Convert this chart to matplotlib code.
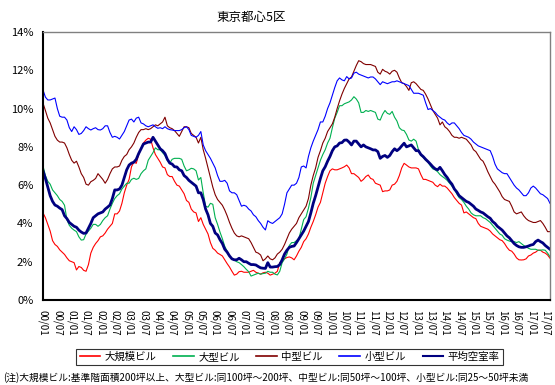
import numpy as np
import matplotlib
matplotlib.use("Agg")
import matplotlib.pyplot as plt

plt.rcParams['font.family'] = ['Noto Sans CJK JP', 'DejaVu Sans']

# 月次空室率（%）、2000/01〜2017/09
large_scale = [
    4.55, 4.3, 3.95, 3.6, 3.1, 2.9, 2.8, 2.62, 2.5, 2.38, 2.2, 2.05,
    2.0, 1.95, 1.57, 1.75, 1.7, 1.55, 1.5, 1.85, 2.45, 2.75, 2.95, 3.1,
    3.3, 3.35, 3.5, 3.7, 3.85, 4.0, 4.5, 4.5, 4.65, 5.05, 5.6, 6.0,
    6.3, 6.96, 7.2, 7.14, 7.6, 7.9, 8.2, 8.35, 8.45, 8.4, 7.95, 7.6,
    7.4, 7.2, 6.95, 6.9, 6.55, 6.45, 6.45, 6.2, 6.0, 5.95, 5.75, 5.55,
    5.2, 5.1, 4.75, 4.6, 4.55, 4.1, 4.3, 3.95, 3.7, 3.45, 3.0, 2.7,
    2.6, 2.45, 2.38, 2.3, 2.1, 1.9, 1.72, 1.5, 1.3, 1.35, 1.48, 1.5,
    1.45, 1.45, 1.45, 1.5, 1.55, 1.45, 1.4, 1.35, 1.42, 1.45, 1.4, 1.3,
    1.35, 1.4, 1.5, 1.95, 2.0, 2.15, 2.22, 2.25, 2.2, 2.1, 2.3, 2.55,
    2.75, 3.05, 3.2, 3.45, 3.8, 4.1, 4.45, 4.85, 5.1, 5.6, 6.1, 6.45,
    6.75, 6.85, 6.8, 6.8, 6.85, 6.9, 6.96, 7.05, 6.9, 6.6, 6.6, 6.5,
    6.4, 6.2, 6.3, 6.45, 6.53, 6.35, 6.3, 6.1, 6.05, 6.0, 5.66, 5.7,
    5.7, 5.75, 6.0, 6.05, 6.2, 6.5, 6.9, 7.14, 7.05, 6.95, 6.9, 6.9,
    6.9, 6.85, 6.55, 6.3, 6.3, 6.25, 6.2, 6.15, 6.0, 5.92, 6.05, 5.95,
    5.95, 5.85, 5.7, 5.55, 5.35, 5.2, 5.05, 4.96, 4.55, 4.6, 4.5, 4.4,
    4.3, 4.25, 4.0, 3.85, 3.8, 3.75, 3.7, 3.6, 3.45, 3.35, 3.25, 3.15,
    3.1, 2.95, 2.75, 2.6, 2.55, 2.4, 2.2, 2.1, 2.09, 2.1, 2.15, 2.3,
    2.35, 2.45, 2.5, 2.6, 2.6, 2.5, 2.45, 2.35, 2.18,
]
large = [
    7.0, 6.5, 6.2, 6.05, 5.75, 5.6, 5.45, 5.25, 5.15, 4.95, 4.2, 3.9,
    3.75, 3.65, 3.57, 3.3, 3.13, 3.15, 3.45, 3.6, 3.75, 3.95, 3.95, 3.85,
    3.95, 4.15, 4.3, 4.4, 4.75, 5.05, 5.3, 5.45, 5.55, 5.8, 5.95, 6.1,
    6.1, 6.3, 6.36, 6.3, 6.35, 6.6, 6.75, 6.85, 7.3, 7.5, 7.7, 7.95,
    7.85, 7.85, 7.7, 7.55, 7.3, 7.15, 7.35, 7.4, 7.4, 7.4, 7.35, 7.0,
    6.75, 6.8, 6.88, 6.85, 6.75, 6.27, 6.4, 5.6, 4.9, 4.85, 5.05, 5.0,
    4.3, 3.95, 3.55, 3.2, 2.8, 2.55, 2.3, 2.15, 2.08, 2.0, 1.95, 1.85,
    1.74, 1.6, 1.48, 1.25, 1.3, 1.35, 1.4, 1.35, 1.38, 1.4, 1.5, 1.45,
    1.45, 1.35, 1.31, 1.5, 1.95, 2.15, 2.4, 2.85, 3.0, 3.0, 3.1, 3.2,
    3.7, 4.2, 4.35, 4.8, 5.35, 6.1, 6.5, 6.9, 7.3, 7.6, 7.85, 8.2,
    8.45, 9.0, 9.5, 9.8, 10.15, 10.15, 10.25, 10.3, 10.35, 10.45, 10.62, 10.5,
    10.3, 9.8, 9.8, 9.9, 9.85, 9.9, 9.85, 9.8, 9.45, 9.4, 9.7, 9.9,
    9.75, 9.7, 9.85, 9.55, 9.35, 9.0, 8.88, 8.85, 8.65, 8.36, 8.3, 8.4,
    8.3, 7.85, 7.55, 7.45, 7.3, 7.2, 7.0, 6.85, 6.8, 6.7, 6.55, 6.45,
    6.36, 6.25, 6.1, 5.95, 5.8, 5.55, 5.35, 5.25, 5.1, 4.9, 4.75, 4.55,
    4.45, 4.4, 4.4, 4.4, 4.3, 4.25, 4.15, 4.05, 3.9, 3.75, 3.6, 3.45,
    3.38, 3.2, 3.13, 3.08, 3.05, 3.05, 3.0, 3.05, 2.95, 2.85, 2.78, 2.7,
    2.65, 2.65, 2.65, 2.6, 2.6, 2.62, 2.6, 2.45, 2.26,
]
medium = [
    10.28, 9.9, 9.5, 9.25, 8.9, 8.55, 8.35, 8.25, 8.25, 8.2, 7.95, 7.6,
    7.3, 7.15, 7.25, 6.95, 6.6, 6.4, 6.05, 6.0, 6.18, 6.25, 6.35, 6.6,
    6.45, 6.3, 6.1, 6.3, 6.6, 6.85, 6.95, 6.95, 7.0, 7.3, 7.5, 7.6,
    7.85, 8.0, 8.2, 8.5, 8.75, 8.9, 8.9, 8.95, 8.9, 8.95, 9.05, 9.15,
    9.1, 9.2, 9.3, 9.55, 9.1, 9.0, 8.95, 8.85, 8.7, 8.55, 8.8, 9.05,
    9.05, 9.0, 8.7, 8.6, 8.5, 8.2, 8.5, 7.85, 7.4, 6.9, 6.4, 5.9,
    5.5, 5.25, 5.1, 4.95, 4.7, 4.4, 4.05, 3.75, 3.5, 3.35, 3.3, 3.35,
    3.3, 3.25, 3.2, 3.0, 2.75, 2.5, 2.45, 2.35, 2.05, 2.15, 2.3, 2.15,
    2.1, 2.2, 2.4, 2.5, 2.65, 2.9, 3.2, 3.5, 3.7, 3.85, 4.0, 4.3,
    4.5, 4.7, 4.9, 5.3, 6.0, 6.5, 6.9, 7.45, 7.8, 8.2, 8.45, 8.8,
    9.0, 9.2, 9.55, 10.0, 10.4, 10.75, 11.05, 11.3, 11.55, 11.65, 11.95, 12.25,
    12.5, 12.45, 12.35, 12.3, 12.3, 12.3, 12.25, 12.2, 11.9, 11.8, 12.05, 11.95,
    11.9, 11.8, 11.95, 12.0, 11.9, 11.6, 11.35, 11.3, 11.15, 10.95, 11.35, 11.4,
    11.3, 11.15, 11.0, 10.95, 10.75, 10.5, 10.2, 9.9, 9.7, 9.5, 9.15, 9.3,
    9.05, 8.95, 8.8, 8.6, 8.5, 8.5, 8.45, 8.5, 8.45, 8.4, 8.25, 8.1,
    7.85, 7.75, 7.55, 7.35, 7.25, 7.0, 6.7, 6.45, 6.2, 6.05, 5.85, 5.65,
    5.4, 5.25, 5.2, 5.15, 4.9, 4.6, 4.5, 4.55, 4.6, 4.4, 4.25, 4.15,
    4.1, 4.05, 4.05, 4.1, 4.15, 4.0, 3.8, 3.57, 3.57,
]
small = [
    10.97, 10.6, 10.45, 10.45, 10.5, 10.55, 10.0, 9.6, 9.55, 9.55, 9.4, 9.0,
    8.8, 9.05, 8.9, 8.65, 8.7, 8.85, 9.05, 8.95, 8.88, 8.95, 9.0, 8.9,
    8.88, 8.95, 9.1, 9.1, 8.75, 8.5, 8.55, 8.5, 8.41, 8.6, 8.8, 9.1,
    9.4, 9.45, 9.3, 9.5, 9.55, 9.25, 9.2, 9.1, 9.05, 9.1, 9.15, 9.05,
    8.97, 9.0, 8.95, 9.05, 8.95, 8.9, 8.88, 8.85, 8.85, 8.85, 8.9, 9.0,
    9.05, 8.9, 8.6, 8.55, 8.5, 8.6, 8.8, 8.1, 7.8, 7.6, 7.4, 7.15,
    6.9, 6.5, 6.2, 6.2, 6.25, 6.1, 5.7, 5.6, 5.6, 5.5, 5.2, 4.9,
    4.95, 4.9, 4.75, 4.65, 4.45, 4.35, 4.15, 4.0, 3.8, 3.66, 4.14, 4.05,
    4.0, 4.1, 4.2, 4.3, 4.5, 5.0, 5.6, 5.8, 6.0, 6.0, 6.1, 6.4,
    6.95, 7.0, 6.9, 7.5, 7.95, 8.3, 8.6, 8.9, 9.3, 9.3, 9.6, 10.0,
    10.3, 10.7, 11.1, 11.45, 11.6, 11.5, 11.45, 11.67, 11.55, 11.6, 11.85, 11.9,
    11.8, 11.75, 11.7, 11.65, 11.6, 11.65, 11.65, 11.55, 11.4, 11.25, 11.4, 11.35,
    11.3, 11.35, 11.4, 11.4, 11.45, 11.4, 11.35, 11.3, 11.25, 11.2, 11.0, 10.8,
    10.8, 10.8, 10.75, 10.7, 10.3, 9.95, 10.0, 9.9, 9.8, 9.65, 9.55, 9.45,
    9.4, 9.25, 9.15, 9.25, 9.25, 9.1, 8.95, 8.75, 8.6, 8.55, 8.5, 8.4,
    8.25, 8.15, 8.05, 8.0, 7.95, 7.9, 7.85, 7.8, 7.5, 7.1, 6.85, 6.75,
    6.65, 6.6, 6.6, 6.4, 6.2, 6.0, 5.85, 5.75, 5.6, 5.45, 5.45, 5.6,
    5.85, 5.95, 5.85, 5.7, 5.55, 5.5, 5.4, 5.3, 5.05,
]
average = [
    6.75, 6.35, 5.9, 5.45, 5.15, 4.96, 4.9, 4.8, 4.72, 4.4, 4.25, 4.05,
    3.95, 3.85, 3.8, 3.65, 3.55, 3.48, 3.5, 3.75, 4.0, 4.3, 4.4, 4.5,
    4.55, 4.6, 4.75, 4.85, 4.96, 5.3, 5.75, 5.75, 5.8, 6.0, 6.4, 6.8,
    7.05, 7.15, 7.2, 7.35, 7.65, 7.9, 8.15, 8.2, 8.25, 8.25, 8.5, 8.3,
    8.1, 7.9, 7.8, 7.65, 7.35, 7.15, 7.1, 6.96, 6.95, 6.8, 6.75, 6.5,
    6.4, 6.25, 6.15, 6.05, 5.95, 5.6, 5.6, 5.25, 4.75, 4.45, 4.0, 3.85,
    3.5, 3.4, 3.15, 2.95, 2.65, 2.5, 2.3, 2.15, 2.1, 2.1, 2.18, 2.1,
    2.0, 2.0, 1.92, 1.85, 1.85, 1.83, 1.75, 1.68, 1.66, 1.65, 1.95, 1.72,
    1.72, 1.74, 1.75, 1.85, 2.1, 2.4, 2.6, 2.75, 2.8, 2.82, 3.0, 3.2,
    3.4, 3.6, 3.85, 4.1, 4.55, 5.05, 5.45, 5.9, 6.35, 6.75, 6.96, 7.25,
    7.5, 7.8, 8.0, 8.05, 8.2, 8.22, 8.35, 8.36, 8.25, 8.1, 8.3, 8.3,
    8.15, 8.0, 8.1, 8.0, 7.95, 7.9, 7.84, 7.84, 7.75, 7.4, 7.5, 7.55,
    7.45, 7.55, 7.75, 7.9, 7.8, 7.9, 8.05, 8.19, 8.0, 8.05, 8.1, 7.95,
    7.8, 7.8, 7.6, 7.49, 7.35, 7.23, 7.1, 6.96, 6.85, 6.8, 6.93, 6.75,
    6.55, 6.4, 6.2, 6.05, 5.8, 5.65, 5.45, 5.35, 5.25, 5.15, 5.1, 5.0,
    4.9, 4.75, 4.68, 4.6, 4.55, 4.45, 4.35, 4.27, 4.1, 4.0, 3.85, 3.75,
    3.65, 3.5, 3.35, 3.25, 3.1, 2.95, 2.85, 2.78, 2.75, 2.75, 2.78, 2.82,
    2.87, 2.9, 3.05, 3.13, 3.05, 2.98, 2.85, 2.75, 2.65,
]

series_names = ['大規模ビル', '大型ビル', '中型ビル', '小型ビル', '平均空室率']
years = range(0, 18)
tick_labels = [f'{y:02d}/{m}' for y in years for m in ('01', '07')]
note = ('(注)大規模ビル:基準階面積200坪以上、大型ビル:同100坪～200坪、'
        '中型ビル:同50坪～100坪、小型ビル:同25～50坪未満')

colors = ['#FF0000', '#00B050', '#800000', '#0000FF', '#000080']
widths = [0.8, 0.8, 0.8, 0.8, 2.0]

fig = plt.figure(figsize=(5.55, 3.85), dpi=100)
ax = fig.add_axes([43 / 555, 1 - 300 / 385, 507 / 555, 268 / 385])

x = np.arange(len(average))
for vals, name, c, lw in zip([large_scale, large, medium, small, average],
                             series_names, colors, widths):
    ax.plot(x, vals, color=c, lw=lw, label=name)

ax.set_xlim(0, len(average) - 1)
ax.set_ylim(0, 14)

ax.set_yticks(np.arange(0, 15, 2))
ax.set_yticklabels([f'{v}%' for v in range(0, 15, 2)], fontsize=8)
ax.tick_params(axis='y', length=0, pad=7)

ax.set_xticks(np.arange(0, len(tick_labels) * 6, 6))
ax.set_xticklabels(tick_labels, rotation=270, fontsize=7)
ax.tick_params(axis='x', which='major', length=0, pad=7)
ax.set_xticks(np.arange(0, len(average), 12), minor=True)
ax.tick_params(axis='x', which='minor', direction='in', length=3,
               width=0.8, color='black')

for side in ('left', 'bottom'):
    ax.spines[side].set_color('black')
    ax.spines[side].set_linewidth(1.5)
for side in ('top', 'right'):
    ax.spines[side].set_color('#808080')
    ax.spines[side].set_linewidth(1.0)

fig.text(251 / 555, 1 - 17 / 385, '東京都心5区', ha='center', va='center',
         fontsize=9)

leg = fig.legend(loc='center', bbox_to_anchor=(289.5 / 555, 1 - 357 / 385),
                 ncol=5, fontsize=7.5, frameon=True, fancybox=False,
                 edgecolor='black', handlelength=2.0, handletextpad=0.4,
                 columnspacing=1.6, borderpad=0.3)
leg.get_frame().set_linewidth(0.8)
for line in leg.get_lines():
    line.set_linewidth(1.2 if line.get_color() != '#000080' else 1.5)

fig.text(3 / 555, 1 - 378 / 385, note, ha='left', va='center', fontsize=7)

fig.savefig('out.png', dpi=100)
